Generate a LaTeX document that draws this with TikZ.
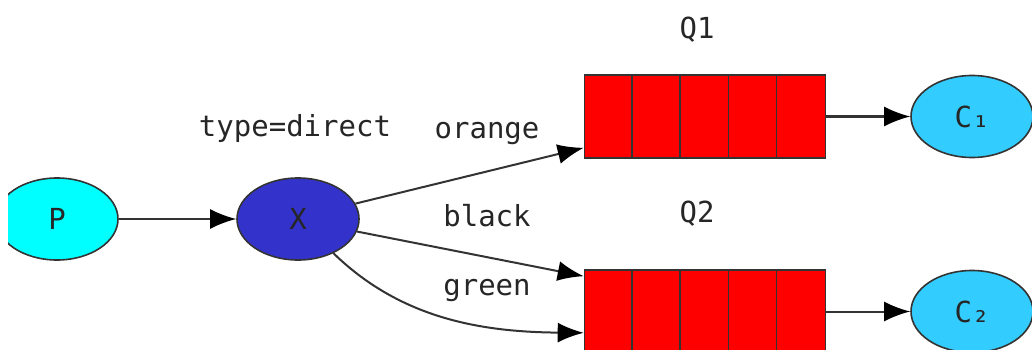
\documentclass[tikz,border=0pt]{standalone}
\usepackage{fontspec}
\setmainfont{DejaVu Sans Mono}
\usepackage{tikz}
\usetikzlibrary{arrows.meta,positioning,shapes.geometric}

\definecolor{producer}{RGB}{0,255,255}
\definecolor{exchange}{RGB}{51,51,204}
\definecolor{consumer}{RGB}{51,204,255}

\begin{document}
\begin{tikzpicture}[
      x=1pt, y=-1pt,
      every node/.style = {font=\fontsize{29}{32}\selectfont, text=black!85},
      party/.style      = {draw=black!80, line width=1.6pt, ellipse, minimum width=122pt, minimum height=82pt},
      queue/.style      = {draw=black!80, line width=1.6pt, fill=red, minimum width=241pt, minimum height=83pt},
      arrow/.style      = {draw=black!80, line width=2pt, -{Latex[length=26pt,width=20pt,color=black]}}
    ]
    \useasboundingbox (0,0) rectangle (1032,350);
    \clip (8,0) rectangle (1032,350);

    \node (p)  [party, fill=producer] at (57,219)    {P};
    \node (x)  [party, fill=exchange] at (298,219)   {X};
    \node (q1) [queue]                at (705,116.5) {};
    \node (q2) [queue]                at (705,311.5) {};
    \node (c1) [party, fill=consumer] at (972,116.5) {C₁};
    \node (c2) [party, fill=consumer] at (972,311.5) {C₂};

    % cells of the queues
    \foreach \q in {q1,q2}
      \foreach \i in {1,...,4}
        \draw[draw=black!80, line width=1.6pt] ([xshift={\i*48.2pt}]\q.north west) -- ([xshift={\i*48.2pt}]\q.south west);

    \node (q1name)   at (697,30)  {Q1};
    \node (q2name)   at (697,214) {Q2};
    \node (xtype)    at (295,128) {type=direct};
    \node (orange)   at (487,133) {orange};
    \node (black)    at (487,216) {black};
    \node (green)    at (487,290) {green};

    \draw[arrow] (p)    to (x);
    \draw[arrow] (q1)   to (c1);
    \draw[arrow] (q2)   to (c2);
    \draw[arrow] (x.15)  to ([yshift=11pt]q1.south west);
    \draw[arrow] (x.-12) to ([yshift=-7pt]q2.north west);
    \draw[arrow] (x.-44) .. controls (400,318) and (480,332) .. ([yshift=21pt]q2.south west);

  \end{tikzpicture}
\end{document}
